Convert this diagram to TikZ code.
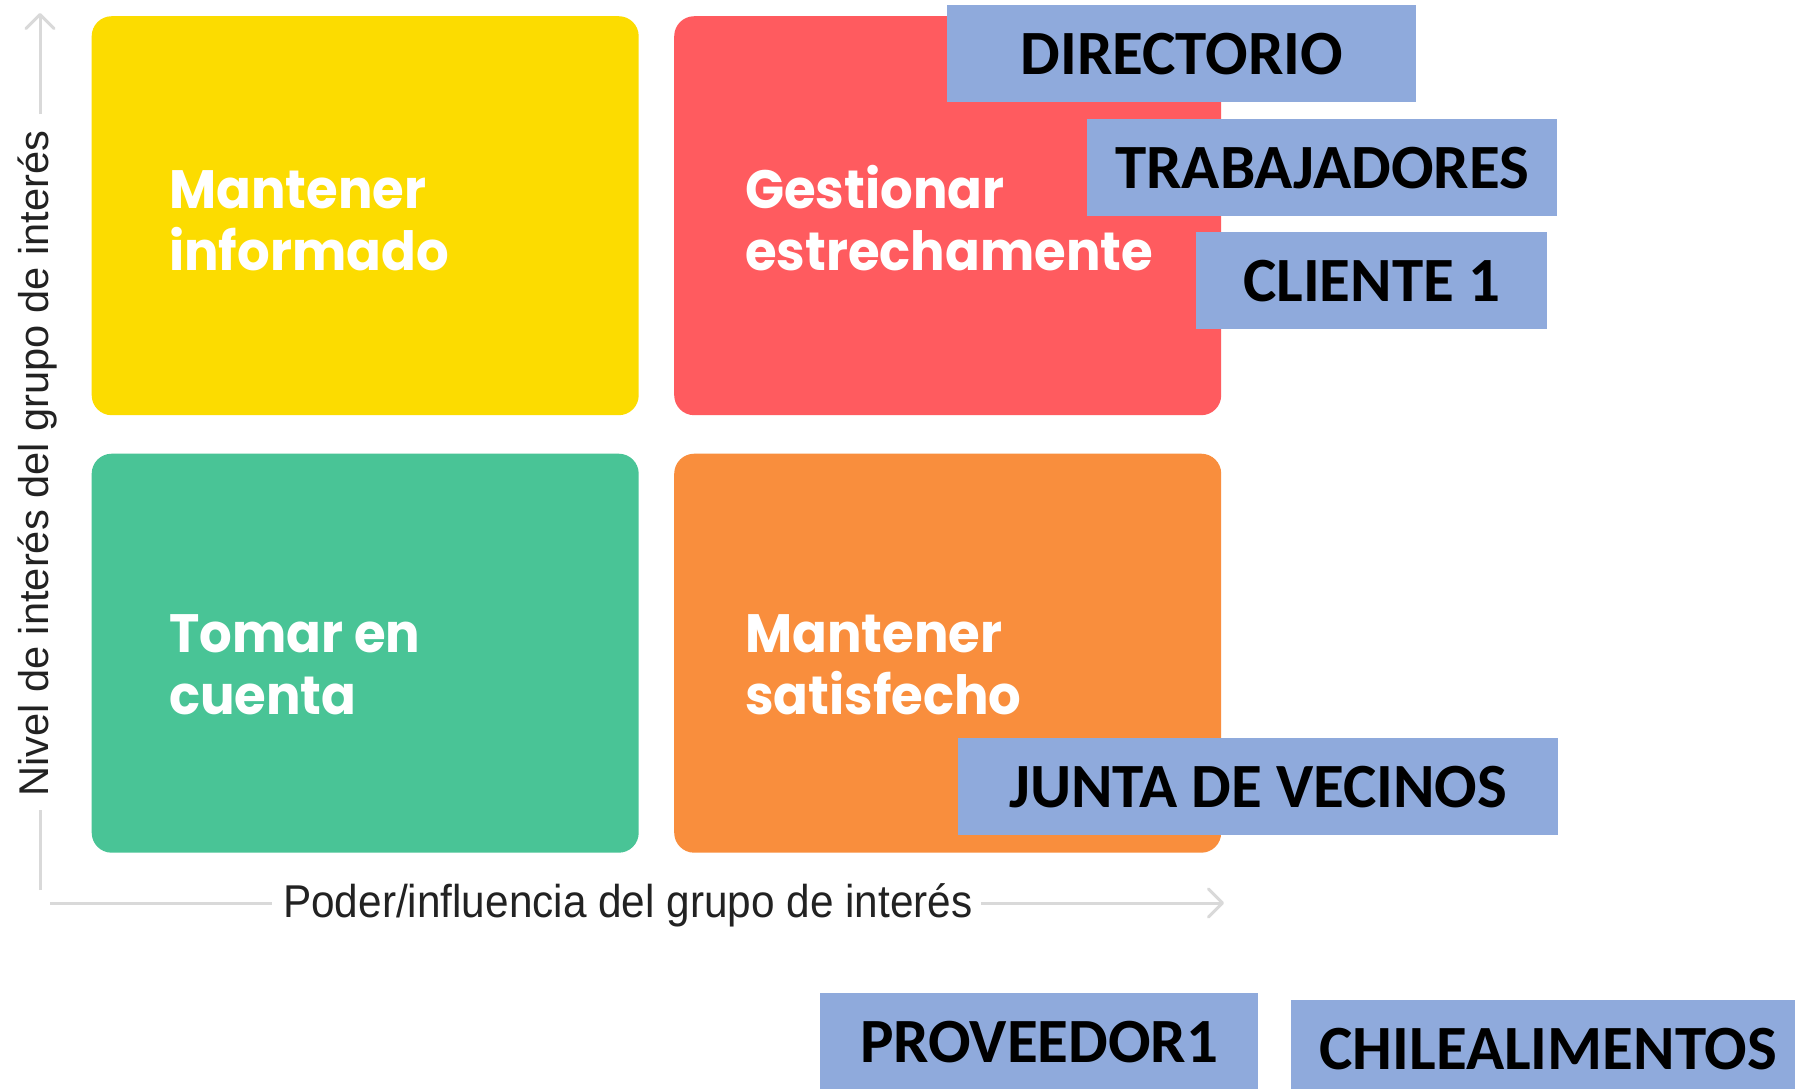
\documentclass[tikz,border=0pt]{standalone}
\usepackage{fontspec}
\setmainfont{Liberation Sans}
\newfontfamily\quadfont[FakeStretch=0.95]{Poppins}
\newfontfamily\labfont{Carlito}
\newfontfamily\axfont{Liberation Sans}
\newfontfamily\axxfont[FakeStretch=0.92]{Liberation Sans}
\usetikzlibrary{arrows.meta}
\definecolor{qyellow}{HTML}{FCDC00}
\definecolor{qred}{HTML}{FF5B5F}
\definecolor{qgreen}{HTML}{49C496}
\definecolor{qorange}{HTML}{F98E3D}
\definecolor{tagblue}{HTML}{8FAADC}
\definecolor{axisgrey}{HTML}{D9D9D9}
\definecolor{axtext}{HTML}{222222}
\begin{document}
\begin{tikzpicture}[x=1pt,y=-1pt,
  quad/.style={draw=none, rounded corners=20pt, minimum width=547pt, minimum height=399pt, inner sep=0pt, anchor=north west},
  qtext/.style={anchor=base west, inner sep=0pt, text=white, font=\quadfont\bfseries\fontsize{54}{62}\selectfont},
  tag/.style={fill=tagblue, inner sep=0pt, minimum height=97pt, font=\labfont\bfseries\fontsize{63}{70}\selectfont, text=black, anchor=north west},
  axisline/.style={draw=axisgrey, line width=3pt},
  axtip/.style={-{Straight Barb[length=14pt,width=28pt,round]}},
  axislabel/.style={text=axtext, inner sep=0pt, font=\axfont\fontsize{45}{50}\selectfont}
]
\useasboundingbox (0,0) rectangle (1795,1088);
\clip (0,0) rectangle (1795,1088);
\fill[white] (0,0) rectangle (1795,1088);

% quadrants
\node[quad, fill=qyellow] (qi) at (91.5,16) {};
\node[quad, fill=qred] (qg) at (674,16) {};
\node[quad, fill=qgreen] (qt) at (91.5,453.5) {};
\node[quad, fill=qorange] (qs) at (674,453.5) {};

\node[qtext] (ti) at (169,208) {\begin{tabular}[t]{@{}l@{}}Mantener\\informado\end{tabular}};
\node[qtext] (tg) at (745,208) {\begin{tabular}[t]{@{}l@{}}Gestionar\\estrechamente\end{tabular}};
\node[qtext] (tt) at (169,652) {\begin{tabular}[t]{@{}l@{}}Tomar en\\cuenta\end{tabular}};
\node[qtext] (ts) at (745,652) {\begin{tabular}[t]{@{}l@{}}Mantener\\satisfecho\end{tabular}};

% axes
\coordinate (yb) at (40,890);
\coordinate (yg1) at (40,810);
\coordinate (yg2) at (40,114);
\coordinate (yt) at (40,13);
\coordinate (xs) at (50,903);
\coordinate (xg1) at (272,903);
\coordinate (xg2) at (981,903);
\coordinate (xt) at (1224,903);
\draw[axisline] (yb) -- (yg1);
\draw[axisline, axtip] (yg2) -- (yt);
\draw[axisline] (xs) -- (xg1);
\draw[axisline, axtip] (xg2) -- (xt);
\node[axislabel, anchor=base west, font=\axxfont\fontsize{46}{50}\selectfont] (xlab) at (283,917) {Poder/influencia del grupo de interés};
\node[axislabel, rotate=90, anchor=base west, font=\axfont\fontsize{41.6}{48}\selectfont] (ylab) at (48,797) {Nivel de interés del grupo de interés};

% stakeholder tags
\node[tag, minimum width=469pt] (dir) at (947,5) {DIRECTORIO};
\node[tag, minimum width=470pt] (trab) at (1087,119) {TRABAJADORES};
\node[tag, minimum width=351pt] (cli) at (1196,232) {CLIENTE 1};
\node[tag, minimum width=600pt] (junta) at (958,738) {JUNTA DE VECINOS};
\node[tag, minimum width=438pt] (prov) at (820,993) {PROVEEDOR1};
\node[tag, minimum width=514pt] (chile) at (1291,1000) {CHILEALIMENTOS};
\end{tikzpicture}
\end{document}
